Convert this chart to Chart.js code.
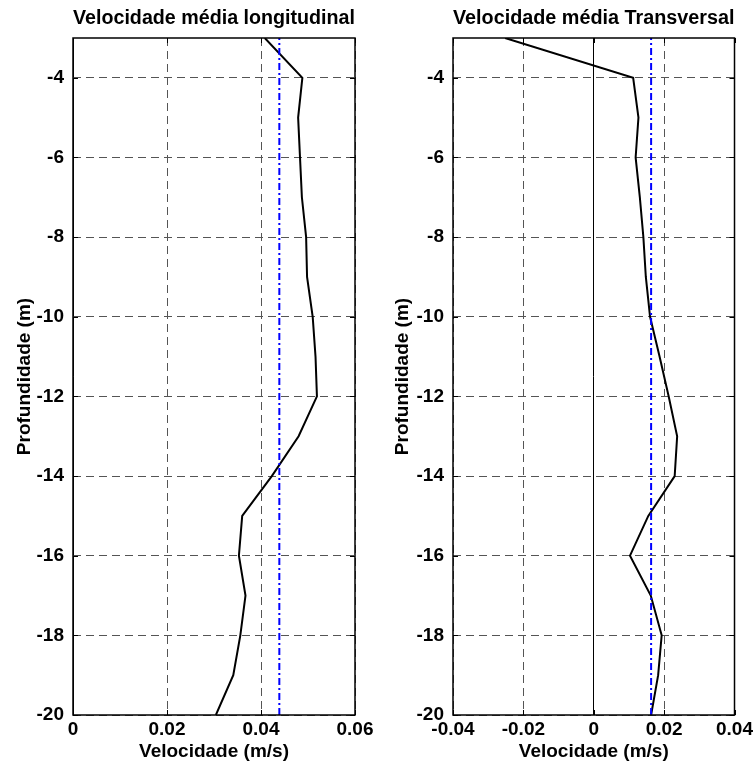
<!DOCTYPE html>
<html>
<head>
<meta charset="utf-8">
<script src="https://cdn.jsdelivr.net/npm/chart.js@4/dist/chart.umd.min.js"></script>
<style>
  html, body { margin: 0; padding: 0; background: #fff; }
  #wrap { position: relative; width: 756px; height: 763px; }
  canvas { position: absolute; top: 0; }
</style>
</head>
<body>
<div id="wrap">
  <canvas id="longChart" width="378" height="763" style="left:0"></canvas>
  <canvas id="transChart" width="378" height="763" style="left:378px"></canvas>
</div>
<script>
// Depth of each measurement (m)
const depths = [-3, -4, -5, -6, -7, -8, -9, -10, -11, -12, -13, -14, -15, -16, -17, -18, -19, -20];
// Mean longitudinal velocity at each depth (m/s)
const longitudinal = [0.0408, 0.0488, 0.0479, 0.0483, 0.0487, 0.0496, 0.0498, 0.0510, 0.0516, 0.0519,
                      0.0480, 0.0423, 0.0360, 0.0353, 0.0367, 0.0356, 0.0341, 0.0304];
// Mean transversal velocity at each depth (m/s)
const transversal = [-0.0252, 0.0112, 0.0127, 0.0119, 0.0131, 0.0141, 0.0148, 0.0160, 0.0187, 0.0213,
                     0.0237, 0.0230, 0.0155, 0.0103, 0.0162, 0.0193, 0.0183, 0.0163];
// Depth-averaged velocity of each component (m/s)
const meanLongitudinal = 0.0439;
const meanTransversal = 0.0163;

// Axis ticks
const depthTicks = [-20, -18, -16, -14, -12, -10, -8, -6, -4];
const longTicks = [0, 0.02, 0.04, 0.06];
const transTicks = [-0.04, -0.02, 0, 0.02, 0.04];

const FAMILY = '"Liberation Sans", Arial, Helvetica, sans-serif';
const tickFont = { family: FAMILY, size: 19, weight: 'bold' };
const labelFont = { family: FAMILY, size: 19, weight: 'bold' };
const titleFont = { family: FAMILY, size: 20, weight: 'bold' };

// Box around the plot area with short inward tick marks on every side
const framePlugin = {
  id: 'frame',
  afterDraw(chart) {
    const { ctx, chartArea: a, scales } = chart;
    const L = 5;
    ctx.save();
    ctx.strokeStyle = '#000';
    ctx.lineWidth = 1;
    ctx.beginPath();
    scales.y.ticks.forEach(t => {
      const py = Math.round(scales.y.getPixelForValue(t.value)) + 0.5;
      ctx.moveTo(a.left, py); ctx.lineTo(a.left + L, py);
      ctx.moveTo(a.right, py); ctx.lineTo(a.right - L, py);
    });
    scales.x.ticks.forEach(t => {
      const px = Math.round(scales.x.getPixelForValue(t.value)) + 0.5;
      ctx.moveTo(px, a.top); ctx.lineTo(px, a.top + L);
      ctx.moveTo(px, a.bottom); ctx.lineTo(px, a.bottom - L);
    });
    ctx.stroke();
    ctx.lineWidth = 1.5;
    ctx.strokeRect(a.left, a.top, a.right - a.left, a.bottom - a.top);
    ctx.restore();
  }
};

function profileChart(canvasId, title, values, mean, xTicks, yAxisWidth, padRight) {
  const points = depths.map((d, i) => ({ x: values[i], y: d }));
  const meanLine = [{ x: mean, y: depths[depths.length - 1] }, { x: mean, y: depths[0] }];
  return new Chart(document.getElementById(canvasId), {
    type: 'scatter',
    data: {
      datasets: [
        { data: meanLine, showLine: true, borderColor: '#0000ff', borderWidth: 2,
          borderDash: [7, 3, 2, 3], pointRadius: 0, order: 0 },
        { data: points, showLine: true, borderColor: '#000', borderWidth: 2,
          pointRadius: 0, tension: 0, order: 1 }
      ]
    },
    options: {
      responsive: false,
      animation: false,
      events: [],
      layout: { padding: { left: 0, right: padRight, top: 0, bottom: 0 } },
      plugins: {
        legend: { display: false },
        tooltip: { enabled: false },
        title: {
          display: true, text: title, fullSize: false, color: '#000', font: titleFont,
          padding: { top: 6, bottom: 8 }
        }
      },
      scales: {
        x: {
          type: 'linear', position: 'bottom',
          min: xTicks[0], max: xTicks[xTicks.length - 1],
          afterBuildTicks: s => { s.ticks = xTicks.map(v => ({ value: v })); },
          afterFit: s => { s.height = 48; },
          ticks: { autoSkip: false, maxRotation: 0, padding: 3, color: '#000', font: tickFont,
                   callback: v => String(v) },
          grid: { drawTicks: false, lineWidth: 1,
                  color: c => (c.tick && c.tick.value === 0) ? '#000' : '#555' },
          border: { display: false, dash: c => (c.tick && c.tick.value === 0) ? [] : [8, 5] },
          title: { display: true, text: 'Velocidade (m/s)', color: '#000', font: labelFont,
                   padding: { top: 0, bottom: 0 } }
        },
        y: {
          type: 'linear', position: 'left',
          min: -20, max: -3,
          afterBuildTicks: s => { s.ticks = depthTicks.map(v => ({ value: v })); },
          afterFit: s => { s.width = yAxisWidth; },
          ticks: { padding: 9, color: '#000', font: tickFont, callback: v => String(v) },
          grid: { drawTicks: false, lineWidth: 1, color: '#555' },
          border: { display: false, dash: [8, 5] },
          title: { display: true, text: 'Profundidade (m)', color: '#000', font: labelFont,
                   padding: { top: 13, bottom: 0 } }
        }
      }
    },
    plugins: [framePlugin]
  });
}

profileChart('longChart', 'Velocidade média longitudinal', longitudinal, meanLongitudinal, longTicks, 73, 23);
profileChart('transChart', 'Velocidade média Transversal', transversal, meanTransversal, transTicks, 75, 20);
</script>
</body>
</html>
